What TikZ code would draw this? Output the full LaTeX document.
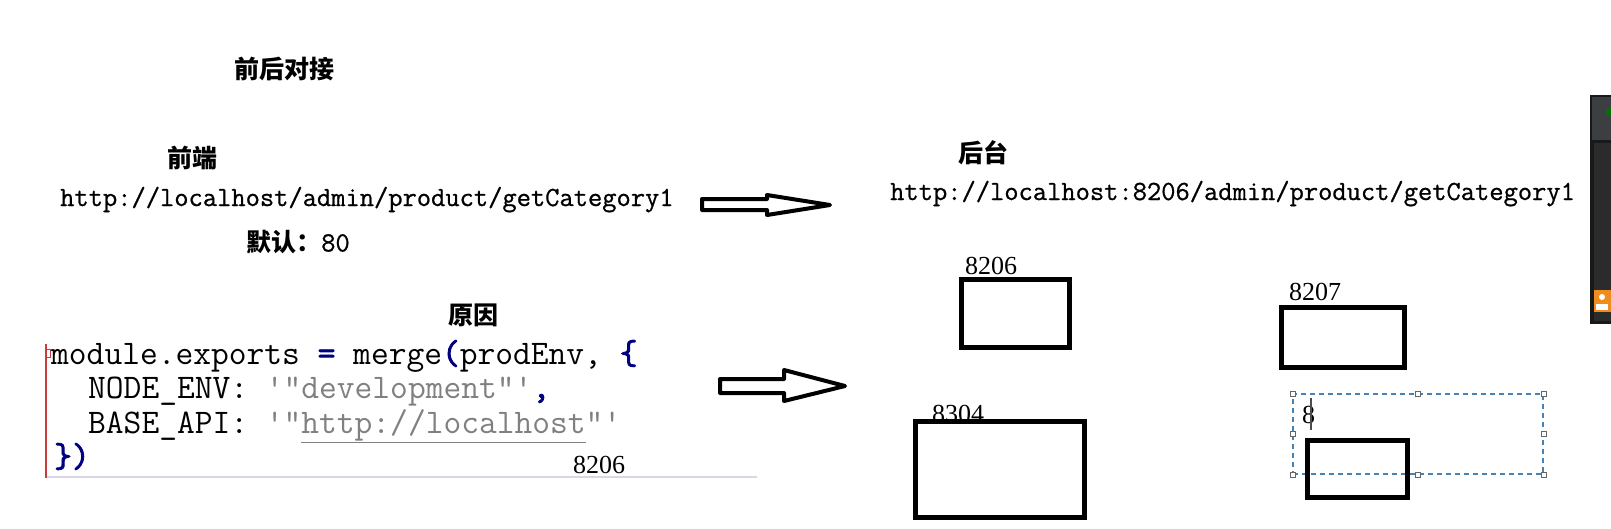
\documentclass[tikz,border=0pt]{standalone}
\usepackage{fontspec}
\setmainfont{Liberation Serif}
\newfontfamily\cjk{Noto Sans CJK SC}
\newfontfamily\urlfont{Latin Modern Mono}[FakeBold=0.8]
\newfontfamily\codefont{Latin Modern Mono}[BoldFont={Latin Modern Mono}, BoldFeatures={FakeBold=2.5}]
\usetikzlibrary{shapes,arrows,calc}
\usepackage{xcolor}
\definecolor{kwnavy}{RGB}{0,0,128}
\definecolor{strgray}{RGB}{128,128,128}
\definecolor{selblue}{RGB}{70,130,180}
\definecolor{barred}{RGB}{200,60,60}
\definecolor{rulegray}{RGB}{215,215,230}
\definecolor{paneldark}{RGB}{43,43,43}
\definecolor{panelhead}{RGB}{60,63,65}
\definecolor{iconorange}{RGB}{240,140,30}
\newcommand{\kw}[1]{{\color{kwnavy}\bfseries #1}}
\newcommand{\strg}[1]{{\color{strgray}#1}}

\begin{document}
\begin{tikzpicture}[x=1pt, y=-1pt,
    head/.style={font=\cjk\bfseries\fontsize{25}{30}\selectfont},
    url/.style={font=\urlfont\fontsize{27.7}{32}\selectfont, anchor=base west, inner sep=0},
    code/.style={font=\codefont\fontsize{34.5}{38}\selectfont, anchor=base west, inner sep=0},
    port/.style={font=\fontsize{26}{30}\selectfont, anchor=base west, inner sep=0},
    server/.style={draw, line width=5pt, inner sep=0},
    hollow/.style={draw, line width=4pt, fill=white, line join=round},
    handle/.style={draw=black!60, fill=white, line width=0.8pt, minimum size=5pt, inner sep=0}]
    \useasboundingbox (0,0) rectangle (1611,528);

    % front end
    \node[head] (title) at (284,69) {前后对接};
    \node[head] (front) at (192,158) {前端};
    \node[url] (fronturl) at (60,206) {http://localhost/admin/product/getCategory1};
    \node[head] (default) at (298,242) {默认：{\urlfont\mdseries\fontsize{27.7}{32}\selectfont 80}};
    \node[head] (reason) at (473,315) {原因};

    % config snippet
    \draw[barred, line width=1.5pt] (46,344) -- (46,478);
    \draw[barred, line width=1pt] (45,349) rectangle (50,357);
    \draw[rulegray, line width=2pt] (47,477) -- (757,477);
    \node[code] (line1) at (51,364) {module.exports \kw{=} merge\kw{(}prodEnv, \kw{\{}};
    \node[code] (line2) at (88,398) {NODE\_ENV: \strg{\textquotesingle"development"\textquotesingle}\kw{,}};
    \node[code] (line3) at (88,433) {BASE\_API: \strg{\textquotesingle"\underline{http://localhost}"\textquotesingle}};
    \node[code] (line4) at (54,467) {\kw{\})}};
    \node[port, anchor=center] (codeport) at (599,465) {8206};

    % arrows
    \draw[hollow] (702,199) -- (767,199) -- (767,195) -- (830,205) -- (767,215) -- (767,210) -- (702,210) -- cycle;
    \draw[hollow] (720,379) -- (784,379) -- (784,370) -- (845,386) -- (784,401) -- (784,393) -- (720,393) -- cycle;

    % back end
    \node[head] (back) at (983,153) {后台};
    \node[url] (backurl) at (890,200) {http://localhost:8206/admin/product/getCategory1};

    \node[port] (lbl8206) at (965,274) {8206};
    \node[port] (lbl8207) at (1289,300) {8207};
    \node[port] (lbl8304) at (932,422) {8304};
    \node[server, minimum width=108pt, minimum height=68pt] (s8206) at (1015.5,313.5) {};
    \node[server, minimum width=123pt, minimum height=60pt] (s8207) at (1343,337.5) {};
    \node[server, minimum width=169pt, minimum height=96pt] (s8304) at (1000,469.5) {};

    % text box being edited
    \node[draw=selblue, line width=1.2pt, dash pattern=on 5pt off 4pt, minimum width=250pt, minimum height=80pt, inner sep=0] (sel) at (1418,434) {};
    \foreach \a in {north west,north,north east,west,east,south west,south,south east}
        \node[handle] (h-\a) at (sel.\a) {};
    \node[port] (typed) at (1302,423) {8};
    \draw[black!70, line width=1.2pt] (1311,398) -- (1311,430);
    \node[server, minimum width=100pt, minimum height=57pt] (snew) at (1357.5,469) {};

    % window at the edge
    \fill[black!90] (1590,95) rectangle (1611,324);
    \fill[panelhead] (1592,97) rectangle (1611,140);
    \fill[paneldark] (1594,143) rectangle (1611,321);
    \fill[green!45!black] (1610,112) circle (4pt);
    \fill[iconorange] (1594,290) rectangle (1611,312);
    \fill[white] (1602,297) circle (3pt);
    \fill[white] (1596,310) rectangle (1608,304);
\end{tikzpicture}
\end{document}
